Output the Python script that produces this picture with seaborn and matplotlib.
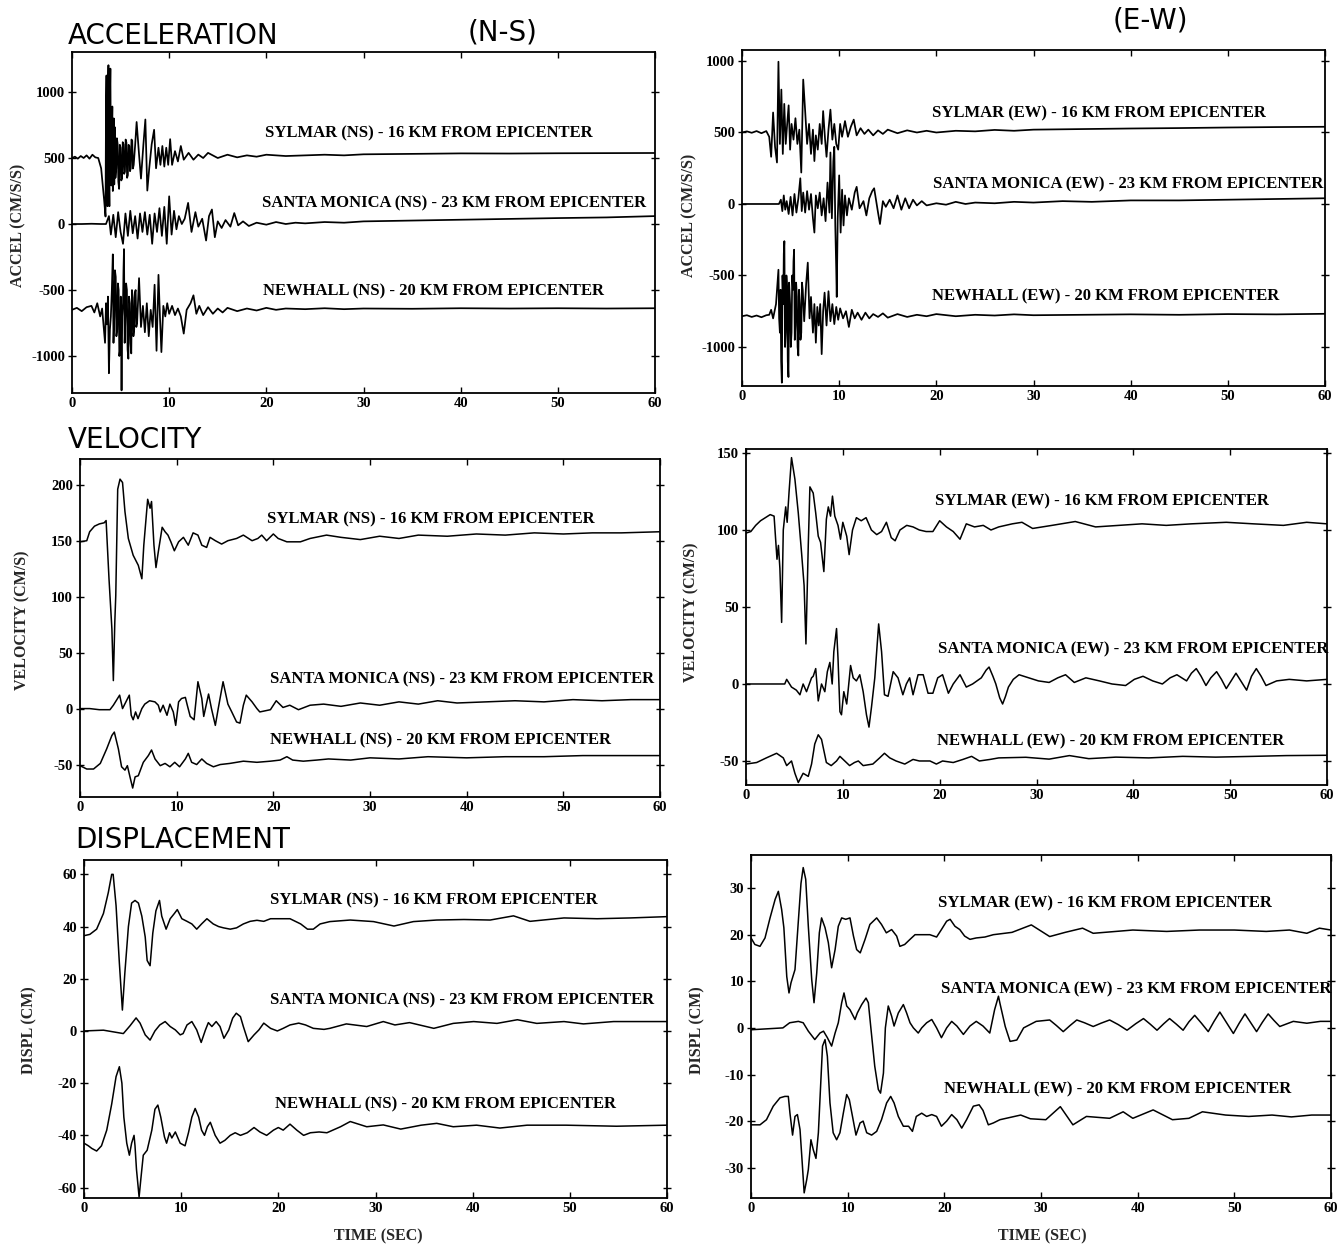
import matplotlib
matplotlib.use("Agg")
import matplotlib.pyplot as plt
import seaborn as sns
import pandas as pd

# ---------------- DATA (time [s], value) ----------------
ACC_NS_SYLMAR = [(0,500),(0.3,510),(0.6,495),(0.9,515),(1.2,500),(1.5,520),(1.8,495),(2.1,525),(2.4,505),(2.7,500),(3.0,422),(3.3,187),(3.45,57),(3.5,900),(3.55,1125),(3.6,300),(3.65,135),(3.7,1000),(3.75,1203),(3.8,400),(3.85,135),(3.9,950),(3.95,1177),(4.0,500),(4.05,292),(4.1,700),(4.15,890),(4.2,250),(4.25,370),(4.3,800),(4.35,300),(4.4,734),(4.47,350),(4.55,422),(4.62,650),(4.7,604),(4.77,320),(4.85,266),(4.92,600),(5.0,578),(5.07,330),(5.15,344),(5.22,620),(5.3,604),(5.37,380),(5.45,396),(5.52,640),(5.6,617),(5.67,350),(5.75,370),(5.82,600),(5.9,591),(5.97,400),(6.05,422),(6.12,640),(6.2,630),(6.27,420),(6.35,448),(6.5,600),(6.65,773),(6.9,526),(7.1,344),(7.35,604),(7.55,792),(7.75,253),(7.95,422),(8.2,604),(8.45,714),(8.65,422),(8.9,578),(9.1,448),(9.3,591),(9.5,435),(9.7,578),(9.9,448),(10.1,643),(10.3,448),(10.6,552),(10.9,474),(11.2,591),(11.5,487),(12,539),(12.5,487),(13,526),(13.5,500),(14,539),(15,500),(16,525),(17,505),(18,520),(19,510),(20,525),(22,515),(24,520),(26,525),(28,520),(30,528),(33,530),(36,532),(40,535),(45,534),(50,536),(55,537),(60,538)]
ACC_NS_SANTA = [(0,0),(1,0),(2,2),(3,0),(3.5,0),(3.8,60),(4.0,-80),(4.25,70),(4.5,-100),(4.75,90),(5.0,-60),(5.25,-150),(5.5,80),(5.75,-90),(6.0,100),(6.25,-70),(6.5,60),(6.75,-110),(7.0,80),(7.25,-60),(7.5,90),(7.75,-80),(8.0,70),(8.25,-150),(8.5,80),(8.75,-60),(9.0,120),(9.25,-90),(9.5,130),(9.75,-150),(10.0,210),(10.25,-80),(10.5,100),(10.75,-40),(11.0,60),(11.3,0),(11.6,40),(11.95,160),(12.3,-60),(12.7,90),(13.0,-20),(13.4,40),(13.8,-125),(14.1,60),(14.4,110),(14.7,-100),(15.0,20),(15.4,-30),(15.8,30),(16.3,-20),(16.7,83),(17.1,-10),(17.6,20),(18.2,-15),(19,10),(20,-5),(21,15),(22,0),(23,10),(24,5),(26,15),(28,10),(30,20),(34,25),(38,30),(42,35),(46,40),(50,45),(55,50),(60,60)]
ACC_NS_NEWHALL = [(0,-650),(0.5,-635),(1.0,-660),(1.5,-630),(2.0,-620),(2.3,-670),(2.6,-600),(2.9,-700),(3.1,-640),(3.4,-900),(3.5,-600),(3.6,-760),(3.7,-550),(3.8,-1130),(3.9,-800),(4.0,-700),(4.1,-500),(4.2,-230),(4.27,-900),(4.35,-700),(4.42,-350),(4.5,-400),(4.57,-850),(4.65,-800),(4.72,-450),(4.8,-500),(4.87,-1000),(4.95,-950),(5.02,-550),(5.1,-1260),(5.17,-700),(5.25,-600),(5.3,-350),(5.35,-190),(5.42,-900),(5.5,-700),(5.57,-450),(5.65,-500),(5.72,-950),(5.8,-1020),(5.87,-550),(5.95,-600),(6.02,-900),(6.1,-980),(6.17,-500),(6.25,-560),(6.32,-850),(6.4,-800),(6.47,-520),(6.55,-500),(6.62,-780),(6.7,-750),(6.9,-410),(7.1,-780),(7.3,-620),(7.5,-820),(7.7,-600),(7.9,-850),(8.1,-650),(8.3,-780),(8.5,-460),(8.7,-960),(8.9,-385),(9.05,-700),(9.2,-970),(9.4,-620),(9.6,-700),(9.8,-600),(10.0,-680),(10.3,-620),(10.6,-690),(10.9,-640),(11.2,-700),(11.5,-830),(11.8,-650),(12.2,-600),(12.5,-540),(12.8,-680),(13.1,-620),(13.5,-690),(14,-630),(14.5,-680),(15,-640),(15.5,-670),(16,-635),(17,-660),(18,-640),(19,-655),(20,-635),(21,-650),(22,-640),(24,-645),(26,-638),(28,-645),(30,-640),(35,-642),(40,-638),(45,-640),(50,-638),(55,-640),(60,-638)]

ACC_EW_SYLMAR = [(0,500),(0.5,508),(1,498),(1.5,510),(2,495),(2.5,510),(2.8,470),(3.0,330),(3.2,640),(3.4,400),(3.6,290),(3.75,995),(3.9,420),(4.05,800),(4.2,350),(4.35,700),(4.5,420),(4.65,560),(4.8,690),(4.95,380),(5.1,560),(5.3,450),(5.5,600),(5.7,420),(5.9,520),(6.1,220),(6.3,870),(6.5,650),(6.7,420),(6.9,560),(7.1,350),(7.3,520),(7.45,300),(7.6,480),(7.8,380),(8.0,560),(8.2,420),(8.35,650),(8.55,450),(8.7,330),(8.9,520),(9.1,660),(9.3,450),(9.5,560),(9.7,420),(9.9,380),(10.1,560),(10.3,470),(10.6,580),(10.9,470),(11.2,540),(11.5,590),(11.8,480),(12.2,530),(12.6,490),(13,520),(13.5,480),(14,515),(14.5,490),(15,520),(16,495),(17,515),(18,500),(19,512),(20,500),(22,512),(24,508),(26,518),(28,512),(30,520),(35,524),(40,528),(45,531),(50,535),(55,538),(60,540)]
ACC_EW_SANTA = [(0,0),(2,0),(3.8,0),(4.0,30),(4.15,-50),(4.3,60),(4.45,-40),(4.6,20),(4.8,-70),(5.0,50),(5.2,-80),(5.4,70),(5.6,-60),(5.8,40),(6.0,180),(6.15,-50),(6.3,80),(6.5,-60),(6.7,90),(6.9,-40),(7.1,70),(7.3,-100),(7.45,-200),(7.6,60),(7.8,-30),(8.0,80),(8.2,-80),(8.4,40),(8.6,-120),(8.8,150),(9.0,-60),(9.1,360),(9.25,-100),(9.4,300),(9.5,400),(9.6,-150),(9.7,-460),(9.75,-650),(9.85,-100),(10.0,200),(10.15,-200),(10.3,100),(10.45,-150),(10.6,60),(10.8,-80),(11.0,40),(11.3,-40),(11.6,80),(11.8,120),(12.1,-30),(12.5,20),(12.8,-80),(13.1,40),(13.4,90),(13.6,110),(14.0,-60),(14.2,-140),(14.5,20),(14.8,-20),(15.2,30),(15.6,-30),(16.0,60),(16.4,-40),(16.8,40),(17.2,-30),(17.6,30),(18.0,-10),(18.5,20),(19,-10),(20,5),(21,-5),(22,15),(23,0),(24,10),(26,5),(28,15),(30,10),(33,20),(36,15),(40,25),(45,25),(50,30),(55,35),(60,40)]
ACC_EW_NEWHALL = [(0,-785),(0.5,-778),(1,-790),(1.5,-780),(2,-792),(2.5,-778),(2.8,-775),(3.0,-740),(3.2,-800),(3.5,-700),(3.75,-460),(3.82,-800),(3.9,-900),(3.97,-600),(4.03,-1100),(4.1,-1250),(4.17,-500),(4.25,-700),(4.3,-350),(4.36,-260),(4.43,-1000),(4.5,-900),(4.57,-500),(4.65,-600),(4.71,-1100),(4.78,-1210),(4.85,-550),(4.95,-700),(5.02,-1000),(5.1,-900),(5.17,-500),(5.25,-600),(5.3,-400),(5.36,-320),(5.43,-950),(5.5,-850),(5.57,-550),(5.65,-650),(5.72,-1000),(5.8,-1060),(5.87,-600),(5.95,-700),(6.02,-950),(6.1,-900),(6.17,-550),(6.25,-600),(6.4,-820),(6.6,-560),(6.77,-410),(6.95,-800),(7.1,-650),(7.3,-900),(7.45,-700),(7.6,-970),(7.75,-720),(7.9,-850),(8.05,-700),(8.2,-1050),(8.35,-750),(8.5,-620),(8.7,-850),(8.9,-610),(9.1,-820),(9.3,-700),(9.5,-840),(9.7,-720),(9.9,-810),(10.1,-730),(10.4,-800),(10.7,-750),(11.0,-860),(11.3,-740),(11.6,-800),(11.9,-760),(12.3,-810),(12.7,-760),(13.1,-800),(13.5,-770),(14,-790),(14.5,-765),(15,-795),(16,-770),(17,-790),(18,-775),(19,-785),(20,-770),(22,-785),(24,-775),(26,-780),(28,-772),(30,-778),(35,-775),(40,-772),(45,-775),(50,-770),(55,-772),(60,-768)]

VEL_NS_SYLMAR = [(0,149),(0.7,150),(1.0,158),(1.5,163),(2.0,165),(2.5,166),(2.7,168),(3.0,116),(3.3,71),(3.45,25),(3.6,77),(3.7,101),(3.9,196),(4.14,205),(4.4,202),(4.65,176),(5.0,152),(5.5,137),(6.03,128),(6.4,116),(6.6,146),(7.0,187),(7.25,179),(7.4,185),(7.65,146),(7.86,126),(8.1,140),(8.5,162),(8.8,158),(9.1,155),(9.4,149),(9.76,141),(10.2,149),(10.7,153),(11.2,146),(11.7,157),(12.2,155),(12.6,146),(13.1,144),(13.45,153),(14.0,150),(14.65,147),(15.3,150),(16.2,152),(16.9,155),(17.8,150),(18.4,152),(18.8,155),(19.3,150),(20,156),(20.5,152),(21.4,149),(22.8,149),(23.8,152),(25.5,155),(27,153),(29,151),(31,154),(33,152),(35,155),(38,154),(41,156),(44,155),(47,157),(50,156),(53,157),(56,157),(60,158)]
VEL_NS_SANTA = [(0,0),(1,0),(2,-1),(3.1,-1),(3.45,3),(4.1,12),(4.4,0),(5.1,12),(5.3,-6),(5.5,-10),(5.75,-3),(6.0,-9),(6.4,0),(6.7,4),(7.2,7),(7.75,6),(8.1,3),(8.3,-3),(8.6,3),(9.0,-6),(9.3,4),(9.65,-3),(9.9,-15),(10.2,6),(10.5,9),(10.9,10),(11.1,3),(11.4,-7),(11.8,-10),(12.2,24),(12.6,9),(12.8,-7),(13.3,13),(13.6,0),(14.0,-15),(14.3,0),(14.8,24),(15.3,4),(15.7,-3),(16.2,-12),(16.55,-13),(16.9,3),(17.2,12),(17.8,6),(18.3,0),(18.6,-3),(19.7,-1),(20.3,7),(21,1),(21.7,3),(22.6,-1),(23.8,3),(25.2,4),(27,2),(29,5),(31,3),(33,6),(35,4),(37,7),(39,5),(42,6),(45,7),(48,6),(51,8),(54,7),(57,8),(60,8)]
VEL_NS_NEWHALL = [(0,-51),(0.7,-54),(1.4,-54),(2.1,-49),(2.76,-36),(3.3,-24),(3.55,-21),(3.97,-36),(4.3,-52),(4.65,-55),(4.9,-51),(5.17,-61),(5.45,-71),(5.7,-61),(6.03,-60),(6.55,-48),(7.07,-42),(7.4,-37),(7.76,-45),(8.3,-51),(8.8,-49),(9.3,-52),(9.8,-48),(10.3,-52),(10.9,-45),(11.2,-40),(11.55,-48),(12.07,-50),(12.6,-45),(13.1,-49),(13.8,-52),(14.5,-50),(15.5,-49),(16.9,-47),(18.3,-48),(19.7,-47),(20.7,-46),(21.4,-43),(22,-46),(23.1,-47),(24.5,-46),(25.7,-45),(28,-46),(30,-44),(33,-45),(36,-43),(40,-44),(44,-43),(48,-43),(52,-42),(56,-42),(60,-42)]

VEL_EW_SYLMAR = [(0,98),(0.5,99),(1,103),(1.5,106),(2,108),(2.5,110),(2.9,109),(3.2,81),(3.35,90),(3.5,75),(3.68,40),(3.85,100),(4.1,115),(4.25,105),(4.45,125),(4.7,147),(5.05,133),(5.4,111),(5.74,85),(6.0,64),(6.19,26),(6.43,90),(6.6,128),(6.94,124),(7.2,111),(7.46,96),(7.7,92),(8.04,73),(8.3,107),(8.5,115),(8.73,109),(8.93,122),(9.17,109),(9.5,103),(9.76,94),(10.0,105),(10.4,96),(10.65,84),(11.0,100),(11.4,108),(11.9,106),(12.4,108),(12.95,100),(13.5,97),(14.0,99),(14.5,105),(15.0,95),(15.4,93),(15.9,100),(16.6,103),(17.25,102),(17.9,100),(18.6,99),(19.3,99),(20,106),(20.7,102),(21.4,99),(22.1,94),(22.75,104),(23.6,102),(24.5,103),(25.3,100),(26.1,102),(27.5,104),(28.5,105),(29.6,101),(31.6,103),(34,105.5),(36.1,102),(38.5,103),(40.9,104),(43.4,103),(46,104),(49.6,105),(52.4,104),(55.5,103),(57.9,105),(60,104)]
VEL_EW_SANTA = [(0,0),(2,0),(4,0),(4.2,3),(4.7,-2),(5.2,-4),(5.57,-7),(5.9,0),(6.25,-5),(6.77,4),(6.94,5),(7.2,10),(7.46,-11),(7.8,0),(8.14,-5),(8.4,8),(8.66,14),(8.9,0),(9.07,21),(9.35,36),(9.5,17),(9.7,-18),(9.86,-20),(10.1,-5),(10.4,-13),(10.55,-4),(10.8,12),(11.07,4),(11.4,2),(11.75,6),(12.1,-5),(12.44,-20),(12.7,-28),(12.96,-15),(13.3,4),(13.54,25),(13.7,39),(14.0,21),(14.3,-7),(14.67,-8),(15.2,8),(15.7,4),(16.2,-7),(16.56,0),(16.9,4),(17.25,-7),(17.77,6),(18.3,6),(18.8,-6),(19.3,-6),(19.8,4),(20.3,6),(20.9,-6),(21.4,0),(22.1,6),(22.75,-2),(23.4,0),(24.3,4),(24.8,9),(25.1,11),(25.5,5),(25.8,0),(26.2,-9),(26.5,-13),(26.8,-8),(27.1,-2),(27.6,3),(28.2,6),(29.2,4),(30.2,2),(31.3,1),(32.2,4),(33.0,6),(33.9,1),(35.1,4),(36.5,2),(37.8,0),(39.2,-1),(40.1,3),(41,5),(42,2),(43,0),(43.8,4),(44.5,6),(45.5,2),(46.0,7),(46.5,10),(47.0,5),(47.5,-1),(48.0,4),(48.6,8),(49.1,3),(49.6,-3),(50.1,2),(50.6,7),(51.1,2),(51.7,-4),(52.2,5),(52.7,10),(53.2,5),(53.7,-1),(54.8,2),(56.1,3),(57.9,2),(60,3)]
VEL_EW_NEWHALL = [(0,-52),(1.1,-51),(2.1,-48),(3.16,-45),(3.85,-48),(4.2,-53),(4.7,-50),(5.05,-58),(5.4,-64),(5.9,-58),(6.43,-60),(6.77,-52),(7.1,-39),(7.46,-33),(7.8,-36),(8.3,-51),(8.8,-53),(9.35,-50),(9.7,-47),(10.2,-50),(10.7,-53),(11.2,-51),(11.6,-50),(12.1,-53),(13.1,-52),(13.8,-48),(14.3,-45),(14.85,-48),(15.5,-50),(16.4,-52),(17.25,-49),(17.9,-50),(19,-50),(19.66,-52),(20.3,-50),(21.4,-51),(22.4,-49),(23.3,-47),(24.1,-50),(25.2,-49),(26.1,-48),(28.9,-47.6),(31.3,-48.8),(33.4,-46.5),(35.4,-48.5),(38.2,-47.5),(41.6,-48),(45.1,-47),(48.5,-47.5),(52.4,-47),(55.8,-46.5),(60,-46.3)]

DISP_NS_SYLMAR = [(0,36.5),(0.6,37),(1.3,39),(2.0,45),(2.5,53),(2.85,60),(3.0,60),(3.3,48),(3.64,26),(3.95,8),(4.2,22),(4.57,40),(4.9,49),(5.25,50),(5.6,49),(5.95,44),(6.3,36),(6.5,27),(6.8,25),(7.08,37.5),(7.4,46),(7.77,50),(8.0,44),(8.45,39),(8.87,43),(9.3,45),(9.6,46.5),(10.07,43),(10.6,42),(11.1,41),(11.6,39),(12.1,41),(12.65,43),(13.3,41),(13.85,40),(14.36,39.5),(15.05,39),(15.7,39.5),(16.4,41),(17.1,42),(17.8,42.4),(18.5,42),(19.2,43),(20.2,43),(21.2,43),(22.3,41),(23,39),(23.6,39),(24.3,41),(25.3,41.9),(27.4,42.5),(29.8,41.9),(31.9,40.2),(33.9,41.9),(36.3,42.5),(39.1,42.7),(41.8,42.5),(44.2,44.1),(45.9,42),(49.4,43.3),(52.8,43),(56.2,43.3),(60,43.8)]
DISP_NS_SANTA = [(0,0),(2,0.3),(4.05,-1),(4.74,2),(5.36,5),(5.77,3),(6.3,-1.5),(6.8,-3.5),(7.3,0),(7.8,2.3),(8.35,3.6),(8.87,1.7),(9.4,0.4),(9.9,-1.5),(10.2,-1),(10.6,2.3),(11.1,3.6),(11.6,0.4),(12.06,-4.4),(12.5,0.4),(12.8,3.2),(13.16,1.7),(13.6,3.6),(14.0,1.7),(14.4,-2.8),(14.9,0.4),(15.3,4.9),(15.67,6.8),(16.1,5.5),(16.4,1.7),(16.9,-4.1),(17.5,-1.5),(18,0.4),(18.5,3),(19.2,1),(19.9,0),(20.5,1),(21.2,2.3),(22.1,3),(22.8,2.3),(23.6,1),(24.7,0.6),(25.3,1.0),(27.0,2.7),(29.1,1.7),(30.8,3.6),(32.0,2.3),(33.5,3.2),(36.0,1.0),(38.0,2.9),(40.1,3.6),(42.5,2.9),(44.6,4.3),(46.6,2.9),(49.4,3.6),(51.4,2.7),(54.5,3.6),(60,3.6)]
DISP_NS_NEWHALL = [(0,-43),(0.45,-44),(0.8,-45),(1.3,-46),(1.8,-44),(2.34,-38),(2.85,-28),(3.3,-17.5),(3.64,-13.7),(3.9,-20),(4.1,-33),(4.4,-43),(4.67,-47.6),(4.9,-43),(5.15,-40),(5.25,-44),(5.4,-53),(5.67,-63.6),(5.87,-56),(6.1,-47.6),(6.5,-45.7),(6.98,-38),(7.3,-30),(7.6,-28.4),(7.9,-33),(8.28,-40.6),(8.5,-43),(8.8,-39),(9.04,-41),(9.4,-38.7),(9.9,-43),(10.4,-44),(10.75,-39),(11.1,-33),(11.44,-29.7),(11.8,-33),(12.1,-38),(12.4,-40),(12.7,-36.7),(13.0,-35),(13.5,-40),(14.0,-43),(14.5,-41.9),(15.05,-40),(15.56,-39),(16.1,-40),(16.8,-39),(17.5,-37),(18.1,-38.7),(18.8,-40),(19.5,-38),(20.0,-37),(20.5,-38),(21.2,-35.7),(21.9,-38),(22.6,-40),(23.3,-39),(24.2,-38.7),(25,-39),(26.4,-36.7),(27.4,-34.7),(29.1,-36.7),(30.8,-36),(32.6,-37.6),(34.7,-36.1),(36.3,-35.4),(38.0,-36.7),(40.4,-36.1),(42.8,-37.2),(45.6,-36.1),(49.6,-36.1),(54.8,-36.5),(60,-36.1)]

DISP_EW_SYLMAR = [(0,19.3),(0.4,17.9),(0.93,17.5),(1.45,19.3),(1.97,23.6),(2.5,27.6),(2.83,29.3),(3.17,25.4),(3.4,21.5),(3.7,11),(3.93,7.5),(4.14,9.7),(4.55,12.5),(4.9,23),(5.17,31),(5.4,34.4),(5.66,31.9),(5.93,21.8),(6.28,10.4),(6.52,5.4),(6.8,11.8),(7.07,20.4),(7.3,23.6),(7.66,21.5),(8.0,18.3),(8.34,12.9),(8.7,16.8),(9.03,21.8),(9.38,23.6),(9.8,23.3),(10.24,23.6),(10.6,19.7),(10.93,16.8),(11.3,16.1),(11.8,19),(12.3,22.2),(13.0,23.6),(13.5,22.2),(14.0,20.4),(14.55,21.1),(15.07,19.7),(15.4,17.5),(15.9,17.9),(16.45,19),(16.97,20),(17.66,20),(18.5,20),(19.2,19.5),(19.7,21.1),(20.24,22.9),(20.6,23.3),(21.1,21.8),(21.6,21.1),(22.1,19.7),(22.65,19),(23.3,19.3),(24.2,19.5),(25.07,20),(27,20.5),(29.0,22.1),(30.9,19.6),(32.5,20.5),(34.3,21.4),(35.4,20.3),(39.5,21),(43.0,20.7),(46.4,21),(50,21),(53.3,20.7),(55.7,21),(57.5,20.3),(58.8,21.4),(60,21)]
DISP_EW_SANTA = [(0,-0.4),(3.3,0),(4.0,1.1),(4.9,1.4),(5.4,1.1),(5.93,-0.7),(6.6,-2.5),(7.14,-1.1),(7.5,-0.7),(7.9,-2.1),(8.34,-3.9),(8.7,-1.1),(9.03,1.1),(9.38,5.4),(9.62,7.5),(9.9,4.7),(10.24,3.9),(10.76,1.8),(11.0,3.2),(11.45,5),(11.9,6.4),(12.14,5.4),(12.4,0),(12.8,-8.2),(13.17,-13.2),(13.4,-14),(13.7,-9.7),(13.9,0),(14.2,4.7),(14.55,2.5),(14.8,0.4),(15.24,3.2),(15.76,5),(16.1,3.2),(16.45,1.1),(16.8,0),(17.3,-1.1),(17.66,0),(18.17,1.1),(18.7,1.8),(19.2,0),(19.7,-2.1),(20.24,0),(20.76,1.4),(21.3,0.4),(21.97,-1.4),(22.65,0.4),(23.3,1.4),(24.0,0.4),(24.7,-1.1),(25.2,3.9),(25.6,6.8),(25.75,5.3),(26.3,0.3),(26.8,-2.9),(27.5,-2.6),(28.2,0),(29.5,1.4),(30.9,1.7),(31.6,0.5),(32.3,-0.8),(33.0,0.5),(33.7,1.7),(34.5,1.1),(35.4,0.3),(36.2,1.0),(37.1,1.7),(38.0,0.7),(38.9,-0.5),(39.8,0.9),(40.6,2.0),(41.3,0.8),(42.0,-0.5),(42.7,0.9),(43.3,2.0),(44.0,0.8),(44.7,-0.5),(45.3,1.3),(45.9,2.7),(46.6,1.0),(47.3,-0.8),(47.9,1.4),(48.5,3.4),(49.2,1.1),(49.9,-1.2),(50.5,1.0),(51.1,3.0),(51.7,1.1),(52.3,-0.8),(52.9,1.2),(53.5,3.0),(54.1,1.6),(54.7,0.3),(56.1,1.4),(57.5,1.0),(58.9,1.4),(60,1.4)]
DISP_EW_NEWHALL = [(0,-20.8),(0.93,-20.8),(1.6,-19.7),(2.3,-16.8),(3.0,-15),(3.5,-14.7),(3.86,-14.7),(4.03,-18.3),(4.3,-23),(4.55,-19),(4.8,-18.6),(5.07,-21.8),(5.3,-29),(5.5,-35.4),(5.76,-32.6),(5.93,-30.4),(6.2,-24),(6.45,-26.2),(6.72,-28),(6.97,-22.5),(7.2,-12.5),(7.4,-3.9),(7.66,-2.5),(7.9,-6.1),(8.17,-16.1),(8.5,-22.5),(8.86,-24),(9.2,-22.5),(9.55,-18.3),(9.9,-14.3),(10.17,-15.4),(10.5,-19),(10.86,-23),(11.28,-20.4),(11.6,-20),(11.97,-22.5),(12.48,-23),(13.0,-22.2),(13.5,-19.7),(14.03,-16.1),(14.45,-14.7),(14.8,-16.1),(15.24,-19),(15.76,-21.1),(16.3,-21.1),(16.7,-22.2),(17.1,-19),(17.66,-18.3),(18.17,-19),(18.7,-18.6),(19.2,-19),(19.7,-21.1),(20.24,-20),(20.76,-18.6),(21.3,-19.7),(21.8,-21.5),(22.3,-19.7),(23.0,-16.8),(23.6,-16.5),(24.0,-17.7),(24.55,-20.8),(25.07,-20.4),(25.75,-19.7),(27.9,-18.7),(28.9,-19.5),(30.5,-19.7),(32.0,-16.9),(33.3,-20.8),(34.7,-19),(37.1,-19.4),(38.5,-18),(39.5,-19.4),(41.6,-17.6),(43.6,-19.7),(45.3,-19.4),(46.7,-18),(49.1,-18.7),(51.5,-19),(53.9,-18.7),(55.9,-19.1),(58,-18.7),(60,-18.7)]

X_TICKS = [0, 10, 20, 30, 40, 50, 60]
STATIONS = ["SYLMAR", "SANTA MONICA", "NEWHALL"]
DISTANCES = ["16", "23", "20"]
ACC_TICKS = [-1000, -500, 0, 500, 1000]
VEL_TICKS = [-50, 0, 50, 100, 150, 200]
VEL_EW_TICKS = [-50, 0, 50, 100, 150]
DISP_NS_TICKS = [-60, -40, -20, 0, 20, 40, 60]
DISP_EW_TICKS = [-30, -20, -10, 0, 10, 20, 30]

# ---------------- FIGURE ----------------
sns.set_theme(style="ticks")
SERIF = ["Liberation Serif", "DejaVu Serif"]
plt.rcParams["font.family"] = SERIF
plt.rcParams["axes.linewidth"] = 1.3

W, H = 1340, 1247
fig = plt.figure(figsize=(W / 100, H / 100), dpi=100)


def px_box(l, t, r, b):
    return [l / W, 1 - b / H, (r - l) / W, (b - t) / H]


def ftext(x, y, s, **kw):
    fig.text(x / W, 1 - y / H, s, **kw)


panels = [
    dict(box=(72, 52, 655, 393), ylim=(-1280, 1303), ticks=ACC_TICKS, comp="NS", lw=1.25,
         traces=[ACC_NS_SYLMAR, ACC_NS_SANTA, ACC_NS_NEWHALL],
         labels=[(265, 133), (262, 203), (263, 291)],
         ylabel=("ACCEL (CM/S/S)", 18, 225)),
    dict(box=(742, 50, 1325, 386), ylim=(-1273, 1077), ticks=ACC_TICKS, comp="EW", lw=1.25,
         traces=[ACC_EW_SYLMAR, ACC_EW_SANTA, ACC_EW_NEWHALL],
         labels=[(932, 113), (933, 184), (932, 296)],
         ylabel=("ACCEL (CM/S/S)", 689, 215)),
    dict(box=(80, 459, 660, 797), ylim=(-79, 223), ticks=VEL_TICKS, comp="NS", lw=1.1,
         traces=[VEL_NS_SYLMAR, VEL_NS_SANTA, VEL_NS_NEWHALL],
         labels=[(267, 519), (270, 679), (270, 740)],
         ylabel=("VELOCITY (CM/S)", 22, 620)),
    dict(box=(746, 449, 1327, 785), ylim=(-65.6, 152.6), ticks=VEL_EW_TICKS, comp="EW", lw=1.1,
         traces=[VEL_EW_SYLMAR, VEL_EW_SANTA, VEL_EW_NEWHALL],
         labels=[(935, 501), (938, 649), (937, 741)],
         ylabel=("VELOCITY (CM/S)", 691, 612)),
    dict(box=(84, 860, 667, 1198), ylim=(-64, 65.5), ticks=DISP_NS_TICKS, comp="NS", lw=1.1,
         traces=[DISP_NS_SYLMAR, DISP_NS_SANTA, DISP_NS_NEWHALL],
         labels=[(270, 900), (270, 1000), (275, 1104)],
         ylabel=("DISPL (CM)", 29, 1030)),
    dict(box=(751, 855, 1331, 1198), ylim=(-36.5, 37.1), ticks=DISP_EW_TICKS, comp="EW", lw=1.1,
         traces=[DISP_EW_SYLMAR, DISP_EW_SANTA, DISP_EW_NEWHALL],
         labels=[(938, 903), (941, 989), (944, 1089)],
         ylabel=("DISPL (CM)", 697, 1030)),
]

tick_font = dict(family=SERIF, weight="bold", size=10.5)

for p in panels:
    ax = fig.add_axes(px_box(*p["box"]))
    frames = []
    for name, tr in zip(STATIONS, p["traces"]):
        d = pd.DataFrame(tr, columns=["t", "v"])
        d["station"] = name
        frames.append(d)
    df = pd.concat(frames, ignore_index=True)
    sns.lineplot(data=df, x="t", y="v", units="station", estimator=None,
                 color="black", linewidth=p["lw"], sort=False, ax=ax, legend=False)
    ax.set_xlim(0, 60)
    ax.set_ylim(*p["ylim"])
    ax.set_xticks(X_TICKS)
    ax.set_yticks(p["ticks"])
    ax.set_xticklabels([str(v) for v in X_TICKS], fontdict=tick_font)
    ax.set_yticklabels([str(v) for v in p["ticks"]], fontdict=tick_font)
    ax.set_xlabel("")
    ax.set_ylabel("")
    ax.tick_params(axis="x", direction="in", top=True, length=4, width=1, pad=3, colors="black")
    ax.tick_params(axis="y", direction="inout", right=True, length=6, width=1, pad=2, colors="black")
    for s in ax.spines.values():
        s.set_color("black")
        s.set_linewidth(1.3)
    ax.set_facecolor("white")
    for (lx, ly), name, dist in zip(p["labels"], STATIONS, DISTANCES):
        ftext(lx, ly, f"{name} ({p['comp']}) - {dist} KM FROM EPICENTER",
              ha="left", va="center", fontsize=12, fontweight="bold",
              family=SERIF, color="black")
    yl, yx, yy = p["ylabel"]
    ftext(yx, yy, yl, rotation=90, ha="center", va="center", fontsize=11.5,
          fontweight="bold", family=SERIF)

title_kw = dict(family=["DejaVu Sans"], fontsize=20, color="black", va="center", ha="left")
ftext(68, 36, "ACCELERATION", **title_kw)
ftext(468, 33, "(N-S)", **title_kw)
ftext(1113, 20, "(E-W)", **title_kw)
ftext(68, 440, "VELOCITY", **title_kw)
ftext(75, 840, "DISPLACEMENT", **title_kw)

for cx in (378, 1042):
    ftext(cx, 1236, "TIME (SEC)", ha="center", va="center", fontsize=11.5,
          fontweight="bold", family=SERIF)

fig.savefig("out.png", dpi=100, facecolor="white")
